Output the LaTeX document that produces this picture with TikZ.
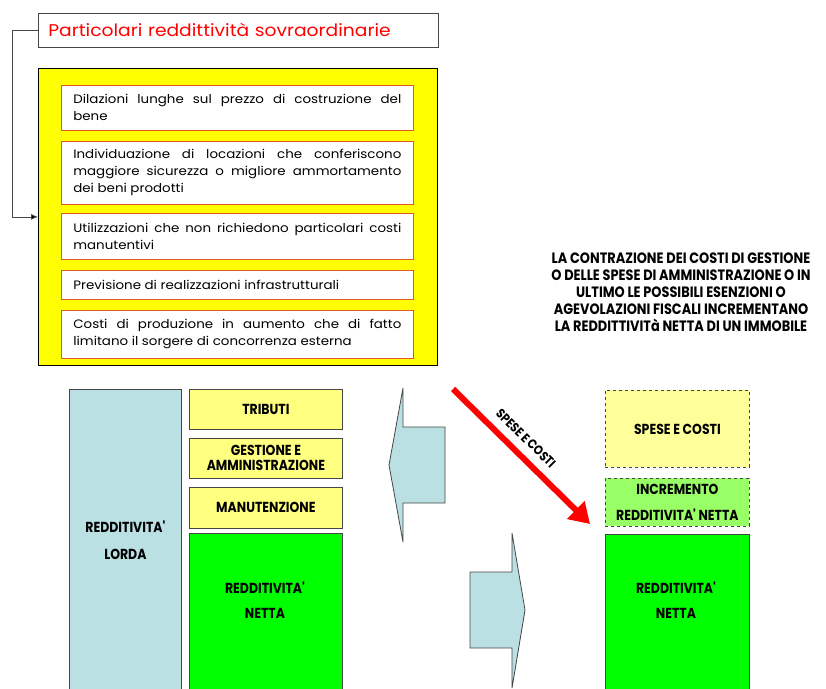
\documentclass[tikz,border=0pt]{standalone}
\usepackage{fontspec}
\setmainfont{Poppins}[FakeStretch=1.1]
\newfontfamily\capsfont[FakeStretch=0.86]{Poppins}
\usetikzlibrary{arrows.meta,positioning,calc}

\definecolor{boxYellow}{RGB}{255,255,0}
\definecolor{itemRed}{RGB}{225,85,45}
\definecolor{lordaBlue}{RGB}{187,224,227}
\definecolor{costYellow}{RGB}{255,255,128}
\definecolor{speseYellow}{RGB}{255,255,153}
\definecolor{incrGreen}{RGB}{153,255,102}
\definecolor{nettaGreen}{RGB}{0,255,0}
\definecolor{edgeGray}{RGB}{70,70,70}

\tikzset{
  itembox/.style={draw=itemRed, fill=white, line width=0.7pt, anchor=north west,
    text width=328pt, inner xsep=12pt, align=justify,
    font=\fontsize{12.2}{17}\selectfont},
  block/.style={draw=edgeGray, line width=0.8pt, anchor=north west, minimum width=153pt},
  dashblock/.style={block, dashed, minimum width=144pt},
  capstext/.style={font=\capsfont\bfseries\fontsize{14.5}{15}\selectfont, align=center, text=black}
}

\begin{document}
\hyphenpenalty=10000
\exhyphenpenalty=10000
\begin{tikzpicture}[x=1pt, y=-1pt]
  \useasboundingbox (0,0) rectangle (826,688);

  % top part
  \node[draw=edgeGray, line width=0.8pt, anchor=north west, text width=380pt, inner xsep=10pt,
        minimum height=34pt, align=left, text=red, font=\fontsize{17}{20}\selectfont]
        (title) at (38,13) {Particolari reddittività sovraordinarie};
  \node[draw=black, line width=0.8pt, fill=boxYellow, anchor=north west,
        minimum width=399pt, minimum height=297pt] (yellowbox) at (38,68) {};
  \draw[-{Latex[length=7pt,width=6pt,fill=black]}, edgeGray, line width=0.8pt]
        (title.west) -- ++(-26,0) |- (yellowbox.west);

  \node[itembox, minimum height=45pt] (item1) at (61,85)
        {Dilazioni lunghe sul prezzo di costruzione del\linebreak bene};
  \node[itembox, minimum height=63pt, below=10pt of item1.south west, anchor=north west] (item2)
        {Individuazione di locazioni che conferiscono maggiore sicurezza o migliore ammortamento dei beni prodotti};
  \node[itembox, minimum height=46pt, below=9pt of item2.south west, anchor=north west] (item3)
        {Utilizzazioni che non richiedono particolari costi manutentivi};
  \node[itembox, minimum height=29pt, below=10pt of item3.south west, anchor=north west] (item4)
        {Previsione di realizzazioni infrastrutturali};
  \node[itembox, minimum height=48pt, below=10pt of item4.south west, anchor=north west] (item5)
        {Costi di produzione in aumento che di fatto limitano il sorgere di concorrenza esterna};

  % note on the right
  \node[capstext, font=\capsfont\bfseries\fontsize{15}{17}\selectfont] (note) at (681,292)
        {LA CONTRAZIONE DEI COSTI DI GESTIONE\\
         O DELLE SPESE DI AMMINISTRAZIONE O IN\\
         ULTIMO LE POSSIBILI ESENZIONI O\\
         AGEVOLAZIONI FISCALI INCREMENTANO\\
         LA REDDITTIVITà NETTA DI UN IMMOBILE};

  % left column
  \node[block, fill=lordaBlue, minimum width=112pt, minimum height=302pt, capstext,
        font=\capsfont\bfseries\fontsize{14.5}{27}\selectfont]
        (lorda) at (69,389) {REDDITIVITA'\\LORDA};
  \node[block, fill=costYellow, minimum height=40pt, capstext] (tributi) at (189,389) {TRIBUTI};
  \node[block, fill=costYellow, minimum height=40pt, capstext, below=8pt of tributi.south west,
        anchor=north west] (gestione) {GESTIONE E\\AMMINISTRAZIONE};
  \node[block, fill=costYellow, minimum height=41pt, capstext, below=8pt of gestione.south west,
        anchor=north west] (manut) {MANUTENZIONE};
  \node[block, fill=nettaGreen, minimum height=160pt] (netta) at (189,533) {};
  \node[capstext, font=\capsfont\bfseries\fontsize{14.5}{25}\selectfont]
        (nettatext) at (265,600) {REDDITIVITA'\\NETTA};

  % block arrows
  \draw[fill=lordaBlue, draw=edgeGray, line width=0.8pt]
        (445,427) -- (403,427) -- (403,388) -- (389,465) -- (403,542) -- (403,503) -- (445,503) -- cycle;
  \draw[fill=lordaBlue, draw=edgeGray, line width=0.8pt]
        (470,572) -- (512,572) -- (512,533) -- (525,610) -- (512,688) -- (512,648) -- (470,648) -- cycle;

  % right column
  \node[dashblock, fill=speseYellow, minimum height=77pt, capstext] (spese) at (605,390) {SPESE E COSTI};
  \node[dashblock, fill=incrGreen, minimum height=48pt, capstext,
        font=\capsfont\bfseries\fontsize{14.5}{26}\selectfont]
        (incr) at (605,478) {INCREMENTO\\REDDITIVITA' NETTA};
  \node[block, fill=nettaGreen, minimum width=144pt, minimum height=160pt] (netta2) at (605,534) {};
  \node[capstext, font=\capsfont\bfseries\fontsize{14.5}{25}\selectfont]
        (netta2text) at (676,600) {REDDITIVITA'\\NETTA};

  % red arrow
  \coordinate (costStart) at (453,389);
  \coordinate (costEnd) at (590,524);
  \draw[red, line width=6pt, -{Triangle[length=20pt,width=24pt]}] (costStart) -- (costEnd)
        node[pos=0.45, sloped, above=5pt, capstext, font=\capsfont\bfseries\fontsize{13}{14}\selectfont]
        (costlabel) {SPESE E COSTI};
\end{tikzpicture}
\end{document}
